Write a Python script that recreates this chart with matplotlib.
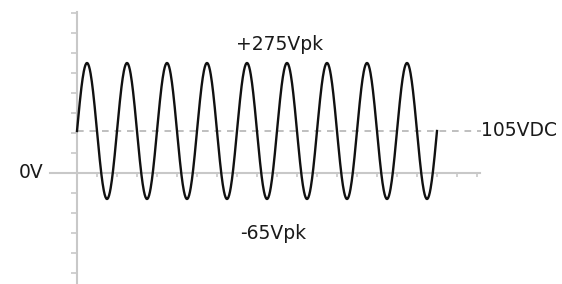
import numpy as np
import matplotlib
matplotlib.use("Agg")
from matplotlib import pyplot as plt

# waveform values (volts) and layout in cycles
dc_level = 105
peak_pos = 275
peak_neg = -65
n_cycles = 9
labels = ["+275Vpk", "-65Vpk", "105VDC", "0V"]

amplitude = (peak_pos - peak_neg) / 2
t = np.linspace(0, n_cycles, 900)
v = dc_level + amplitude * np.sin(2 * np.pi * t)

fig = plt.figure(figsize=(5.62, 2.84), dpi=100)
ax = fig.add_axes([0, 0, 1, 1])
ax.set_xlim(-1.925, 12.125)
ax.set_ylim(-277.5, 432.5)

grey = "#c8c8c8"
for side in ["top", "right"]:
    ax.spines[side].set_visible(False)
ax.spines["left"].set_position(("data", 0))
ax.spines["bottom"].set_position(("data", 0))
ax.spines["left"].set_bounds(-277.5, 402)
ax.spines["bottom"].set_bounds(-0.675, 10.075)
for side in ["left", "bottom"]:
    ax.spines[side].set_color(grey)
    ax.spines[side].set_linewidth(1.5)
    ax.spines[side].set_zorder(1)

ax.set_yticks(np.arange(-250, 401, 50))
ax.set_xticks(np.arange(0.5, 10.01, 0.5))
ax.tick_params(axis="y", direction="out", length=4, width=1.2, color=grey, labelleft=False)
ax.tick_params(axis="x", direction="out", length=3, width=1.2, color=grey, labelbottom=False)
ax.patch.set_alpha(0)

ax.plot([0, 10.1], [dc_level, dc_level], color="#b4b4b4", lw=1.2, dashes=(4, 3.5), zorder=2)
ax.plot(t, v, color="#111111", lw=1.7, zorder=3)

tc = "#1a1a1a"
fs = 13.5
ax.text(5.075, 322, labels[0], ha="center", va="center", fontsize=fs, color=tc)
ax.text(4.9, -152, labels[1], ha="center", va="center", fontsize=fs, color=tc)
ax.text(10.1, dc_level, labels[2], ha="left", va="center", fontsize=fs, color=tc)
ax.text(-0.85, 0, labels[3], ha="right", va="center", fontsize=fs, color=tc)

fig.savefig("out.png", dpi=100)
